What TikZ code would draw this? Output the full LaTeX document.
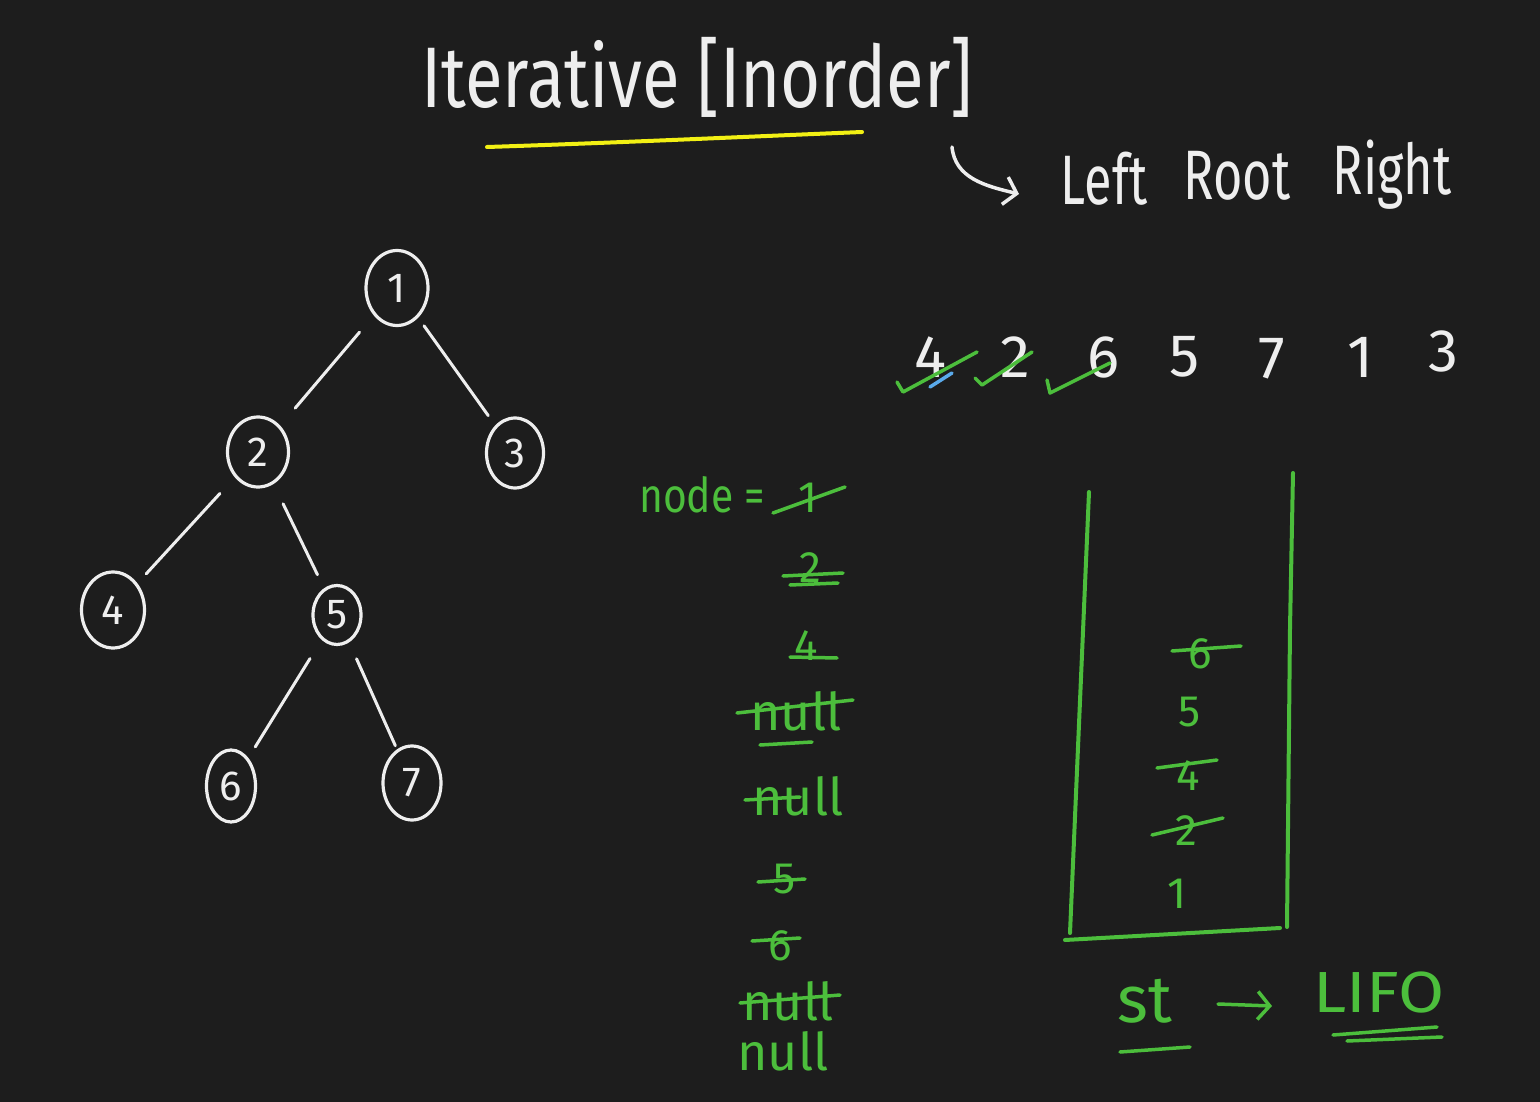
\documentclass[tikz,border=0pt]{standalone}
\usepackage{fontspec}
\setmainfont{Fira Sans}
\usetikzlibrary{arrows.meta,shapes.geometric}
\definecolor{bg}{RGB}{29,29,29}
\definecolor{chalk}{RGB}{238,238,238}
\definecolor{gchalk}{RGB}{76,190,60}
\definecolor{ychalk}{RGB}{242,240,20}
\definecolor{bchalk}{RGB}{90,170,235}
\newcommand{\narrowtxt}[2]{\scalebox{#1}[1]{#2}}
\begin{document}
\begin{tikzpicture}[x=1pt,y=-1pt,line cap=round,line join=round,
  wt/.style={text=chalk,inner sep=0pt,anchor=base,font=\fontsize{#1}{#1}\selectfont},
  gt/.style={text=gchalk,inner sep=0pt,anchor=base,font=\fontsize{#1}{#1}\selectfont},
  tn/.style={ellipse,draw=chalk,line width=3.2pt,inner sep=0pt,text=chalk,font=\fontsize{42}{42}\selectfont},
  edge/.style={draw=chalk,line width=3pt},
  gline/.style={draw=gchalk,line width=3.5pt},
  wline/.style={draw=chalk,line width=3.5pt},
  barb/.style={-{Straight Barb[length=12pt,width=28pt]}}]
\fill[bg] (0,0) rectangle (1540,1102);
\useasboundingbox (0,0) rectangle (1540,1102);

% title
\node[wt=86] (title) at (697,108) {\narrowtxt{0.8}{Iterative [Inorder]}};
\draw[draw=ychalk,line width=4pt] (487,147) .. controls (610,143) and (740,137) .. (862,132);

% hook arrow and Left Root Right
\coordinate (h0) at (952,147);
\coordinate (h1) at (1019,194);
\draw[wline,barb] (h0) .. controls (955,178) and (985,186) .. (h1);
\node[wt=70] (lft) at (1104,205) {\narrowtxt{0.72}{Left}};
\node[wt=70] (rt) at (1237,200) {\narrowtxt{0.72}{Root}};
\node[wt=70] (rgt) at (1392,195) {\narrowtxt{0.72}{Right}};

% tree
\node[tn,minimum width=62pt,minimum height=75pt] (n1) at (397,288) {1};
\node[tn,minimum width=61pt,minimum height=70pt] (n2) at (258,452) {2};
\node[tn,minimum width=57pt,minimum height=70pt] (n3) at (515,453) {3};
\node[tn,minimum width=63pt,minimum height=76pt] (n4) at (113,610) {4};
\node[tn,minimum width=48pt,minimum height=59pt] (n5) at (337,615) {5};
\node[tn,minimum width=49pt,minimum height=72pt] (n6) at (231,786) {6};
\node[tn,minimum width=58pt,minimum height=74pt] (n7) at (412,783) {7};
\draw[edge,shorten <=22pt,shorten >=23pt] (n1) -- (n2);
\draw[edge,shorten <=10pt,shorten >=12pt] (n1) -- (n3);
\draw[edge,shorten <=22pt,shorten >=13pt] (n2) -- (n4);
\draw[edge,shorten <=22pt,shorten >=15pt] (n2) -- (n5);
\draw[edge,shorten <=22pt,shorten >=13pt] (n5) -- (n6);
\draw[edge,shorten <=18pt,shorten >=4pt] (n5) -- (n7);

% inorder sequence
\node[wt=60] (s1) at (930,377) {4};
\node[wt=60] (s2) at (1015,377) {2};
\node[wt=60] (s3) at (1103,377) {6};
\node[wt=60] (s4) at (1185,376) {5};
\node[wt=60] (s5) at (1272,378) {7};
\node[wt=60] (s6) at (1360,377) {1};
\node[wt=60] (s7) at (1443,371) {3};
\draw[gline] (897,382) -- (903,392) -- (977,352);
\draw[gline] (975,378) -- (982,385) -- (1032,352);
\draw[gline] (1047,380) -- (1050,393) -- (1110,363);
\draw[draw=bchalk,line width=3.5pt] (930,387) -- (952,373);

% node variable trace
\node[gt=48] (nodelbl) at (702,512) {\narrowtxt{0.85}{node =}};
\node[gt=44] (v1) at (808,512) {1};
\draw[gline] (773,513) -- (845,487);
\node[gt=44] (v2) at (810,582) {2};
\draw[gline] (783,576) -- (843,573);
\draw[gline] (790,585) -- (838,583);
\node[gt=44] (v3) at (806,660) {4};
\draw[gline] (790,657) -- (837,658);
\node[gt=52] (v4) at (796,730) {null};
\draw[gline] (737,713) -- (853,700);
\draw[gline] (760,745) -- (812,742);
\node[gt=52] (v5) at (798,815) {null};
\draw[gline] (745,800) -- (800,797);
\node[gt=44] (v6) at (785,893) {5};
\draw[gline] (758,882) -- (805,879);
\node[gt=44] (v7) at (780,960) {6};
\draw[gline] (752,941) -- (800,938);
\node[gt=52] (v8) at (788,1020) {null};
\draw[gline] (740,1003) -- (840,995);
\node[gt=52] (v9) at (783,1070) {null};

% stack
\draw[gline,line width=4pt] (1089,492) -- (1070,933);
\draw[gline,line width=4pt] (1293,473) -- (1290,628) -- (1287,927);
\draw[gline,line width=4pt] (1065,940) -- (1280,928);
\node[gt=44] (k6) at (1200,668) {6};
\draw[gline] (1172,651) -- (1241,646);
\node[gt=44] (k5) at (1190,726) {5};
\node[gt=44] (k4) at (1188,790) {4};
\draw[gline] (1157,768) -- (1217,760);
\node[gt=44] (k2) at (1186,845) {2};
\draw[gline] (1152,835) -- (1223,818);
\node[gt=44] (k1) at (1177,908) {1};

% st -> LIFO
\node[gt=66] (st) at (1145,1022) {st};
\draw[gline] (1120,1052) -- (1190,1047);
\coordinate (a0) at (1218,1004);
\coordinate (a1) at (1272,1006);
\draw[gline,barb] (a0) -- (a1);
\node[gt=58] (lifo) at (1379,1012) {\narrowtxt{1.15}{LIFO}};
\draw[gline] (1333,1035) -- (1437,1027);
\draw[gline] (1347,1041) -- (1442,1037);
\end{tikzpicture}
\end{document}
